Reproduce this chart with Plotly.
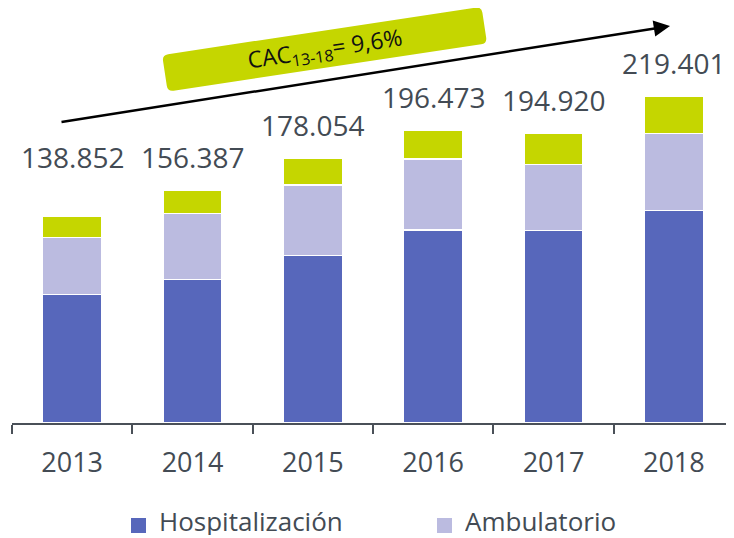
import math
import plotly.graph_objects as go

years = ["2013", "2014", "2015", "2016", "2017", "2018"]
hospitalizacion = [86200, 96300, 112600, 129700, 129200, 142700]
ambulatorio = [38300, 44550, 47340, 47700, 44400, 51900]
totals = [138852, 156387, 178054, 196473, 194920, 219401]
total_labels = ["138.852", "156.387", "178.054", "196.473", "194.920", "219.401"]
otros = [t - h - a for t, h, a in zip(totals, hospitalizacion, ambulatorio)]
label_shift = [59, 33, 33, 34, 33, 34]

# the page places the figure 8px from the top-left of the window
OFF = 8
W, H = 734 - OFF, 538 - OFF
ML, MR, MT = 12 - OFF, 0, 0
PW = W - ML - MR
PH = 423 - OFF - MT
MB = H - MT - PH


def px(x):
    return (x - OFF - ML) / PW


def py(y):
    return (PH + MT - (y - OFF)) / PH


BLUE = "#5767BB"
LAV = "#BBBBE0"
GREEN = "#C5D600"
TXT = "#434B54"
FONT = "Open Sans"

fig = go.Figure()
for name, vals, col in [("Hospitalización", hospitalizacion, BLUE),
                        ("Ambulatorio", ambulatorio, LAV),
                        ("Otros", otros, GREEN)]:
    fig.add_trace(go.Bar(x=years, y=vals, name=name, marker_color=col,
                         marker_line_color="white", marker_line_width=1.5,
                         showlegend=False))

annotations = []
for i, (tot, lab, sh) in enumerate(zip(totals, total_labels, label_shift)):
    annotations.append(dict(x=i, y=tot, xref="x", yref="y", text=lab,
                            showarrow=False, yanchor="middle", yshift=sh,
                            font=dict(family=FONT, size=28, color=TXT)))

# growth arrow
annotations.append(dict(x=px(670), y=py(26), xref="paper", yref="paper",
                        ax=60 - 670, ay=122.3 - 26, axref="pixel", ayref="pixel",
                        text="", showarrow=True, arrowhead=2, arrowsize=1.3,
                        arrowwidth=2.5, arrowcolor="black"))

# CAC box: rotated rounded rectangle
cx, cy, bw, bh, ang, rad = 324.6, 49.2, 323, 37, 8.6, 6
t = math.radians(ang)
u = (math.cos(t), -math.sin(t))
v = (math.sin(t), math.cos(t))


def pt(a, b):
    X = cx + a * u[0] + b * v[0]
    Y = cy + a * u[1] + b * v[1]
    return f"{px(X):.5f},{py(Y):.5f}"


hw, hh = bw / 2, bh / 2
path = (f"M {pt(-hw + rad, -hh)} L {pt(hw - rad, -hh)} Q {pt(hw, -hh)} {pt(hw, -hh + rad)} "
        f"L {pt(hw, hh - rad)} Q {pt(hw, hh)} {pt(hw - rad, hh)} "
        f"L {pt(-hw + rad, hh)} Q {pt(-hw, hh)} {pt(-hw, hh - rad)} "
        f"L {pt(-hw, -hh + rad)} Q {pt(-hw, -hh)} {pt(-hw + rad, -hh)} Z")
shapes = [dict(type="path", xref="paper", yref="paper", path=path,
               fillcolor=GREEN, line_width=0, layer="below")]

annotations.append(dict(x=px(cx), y=py(cy), xref="paper", yref="paper",
                        text="CAC<sub>13-18</sub>= 9,6%", showarrow=False,
                        xanchor="center", yanchor="middle", textangle=-ang,
                        font=dict(family=FONT, size=23, color="#111111")))

# legend
legend_items = [("Hospitalización", BLUE, 131, 157), ("Ambulatorio", LAV, 437, 463)]
for name, col, mx, tx in legend_items:
    shapes.append(dict(type="rect", xref="paper", yref="paper",
                       x0=px(mx), x1=px(mx + 15), y0=py(518), y1=py(533),
                       fillcolor=col, line_width=0))
    annotations.append(dict(x=px(tx), y=py(521), xref="paper", yref="paper",
                            text=name, showarrow=False, xanchor="left",
                            yanchor="middle", height=28, valign="middle",
                            font=dict(family=FONT, size=26, color=TXT)))

fig.update_layout(
    barmode="stack", bargap=0.51,
    width=W, height=H,
    margin=dict(l=ML, r=MR, t=MT, b=MB),
    paper_bgcolor="white", plot_bgcolor="white",
    annotations=annotations, shapes=shapes,
    showlegend=False,
    xaxis=dict(type="category", range=[-0.5, 5.5], showline=True,
               linecolor="#4A5058", linewidth=2, ticks="outside",
               tickson="boundaries", ticklen=9, tickwidth=2,
               tickcolor="#4A5058", showgrid=False, ticklabelstandoff=15,
               tickfont=dict(family=FONT, size=27, color=TXT)),
    yaxis=dict(visible=False, range=[0, PH * 672], showgrid=False),
)

fig.write_html("out.html")
